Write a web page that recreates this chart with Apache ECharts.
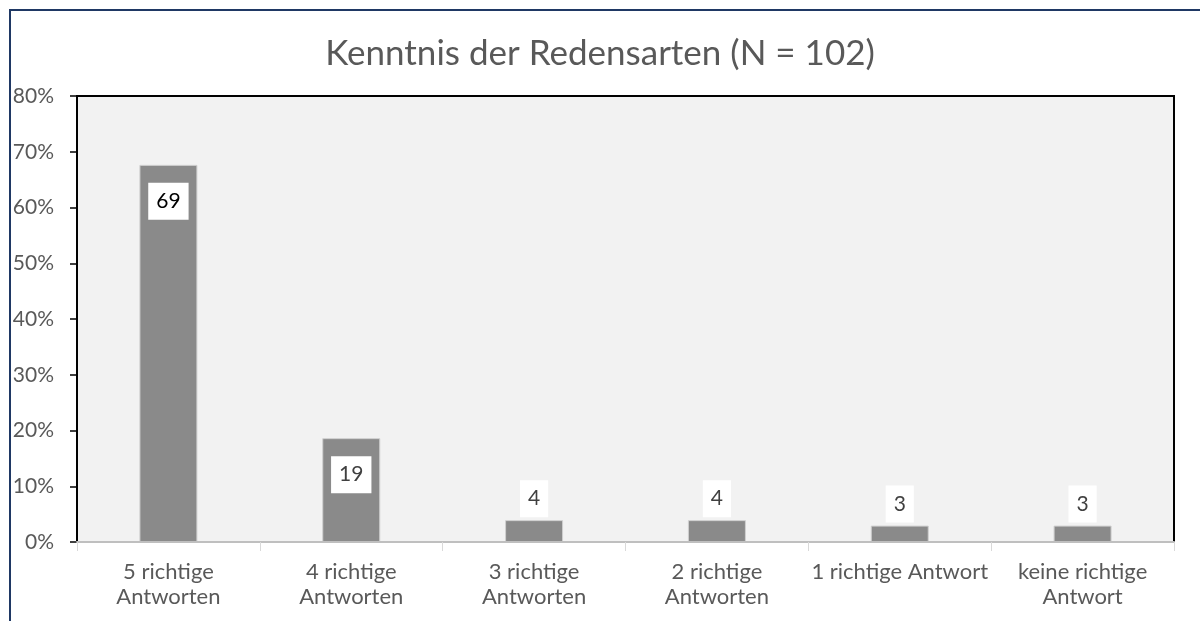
<!DOCTYPE html>
<html>
<head>
<meta charset="utf-8">
<script src="https://cdn.jsdelivr.net/npm/echarts@6/dist/echarts.min.js"></script>
<style>
  html, body { margin: 0; padding: 0; background: #fff; }
  #chart { width: 1200px; height: 621px; }
</style>
</head>
<body>
<div id="chart"></div>
<script>
// Survey: how many of five idioms were answered correctly
const N = 102;
const categories = [
  '5 richtige\nAntworten',
  '4 richtige\nAntworten',
  '3 richtige\nAntworten',
  '2 richtige\nAntworten',
  '1 richtige Antwort',
  'keine richtige\nAntwort'
];
const counts = [69, 19, 4, 4, 3, 3];
const titleText = 'Kenntnis der Redensarten (N = ' + N + ')';

const FONT = 'Lato, "Open Sans", sans-serif';

const barData = counts.map(function (c) {
  const big = c / N > 0.1;
  return {
    value: c / N,
    count: c,
    label: big
      ? { position: 'insideTop', distance: 18, color: c > 50 ? '#000' : '#404040' }
      : { position: 'top', distance: 3, color: '#404040' }
  };
});

const chart = echarts.init(document.getElementById('chart'), null, { renderer: 'canvas' });
chart.setOption({
  animation: false,
  backgroundColor: '#fff',
  title: {
    text: titleText,
    left: 'center',
    top: 31,
    textStyle: { fontFamily: FONT, fontSize: 35, fontWeight: 'normal', color: '#595959' }
  },
  graphic: [
    { type: 'line', shape: { x1: 9, y1: 10, x2: 1200, y2: 10 }, style: { stroke: '#1f3864', lineWidth: 2 } },
    { type: 'line', shape: { x1: 10, y1: 9, x2: 10, y2: 621 }, style: { stroke: '#1f3864', lineWidth: 2 } }
  ],
  grid: {
    left: 77, right: 26, top: 96, bottom: 79,
    show: true,
    backgroundColor: '#f2f2f2',
    borderColor: '#000',
    borderWidth: 2
  },
  xAxis: {
    type: 'category',
    data: categories,
    boundaryGap: true,
    axisLine: { show: true, lineStyle: { color: '#bfbfbf', width: 2 } },
    axisTick: { show: true, length: 9, lineStyle: { color: '#d9d9d9', width: 1 } },
    axisLabel: {
      interval: 0,
      margin: 17,
      fontFamily: FONT,
      fontSize: 22,
      lineHeight: 25,
      color: '#595959'
    },
    z: 5
  },
  yAxis: {
    type: 'value',
    min: 0,
    max: 0.8,
    interval: 0.1,
    axisLine: { show: true, lineStyle: { color: '#000', width: 2 } },
    axisTick: { show: true, length: 7, lineStyle: { color: '#000', width: 1.5 } },
    splitLine: { show: false },
    axisLabel: {
      margin: 23,
      fontFamily: FONT,
      fontSize: 21,
      color: '#595959',
      formatter: function (v) { return Math.round(v * 100) + '%'; }
    }
  },
  series: [{
    type: 'bar',
    data: barData,
    barWidth: 58,
    itemStyle: { color: '#8a8a8a', borderColor: '#d0d0d0', borderWidth: 1 },
    label: {
      show: true,
      fontFamily: FONT,
      fontSize: 21,
      lineHeight: 21,
      backgroundColor: '#fff',
      align: 'center',
      padding: [8, 8, 8, 8],
      formatter: function (p) { return String(p.data.count); }
    }
  }]
});
</script>
</body>
</html>
